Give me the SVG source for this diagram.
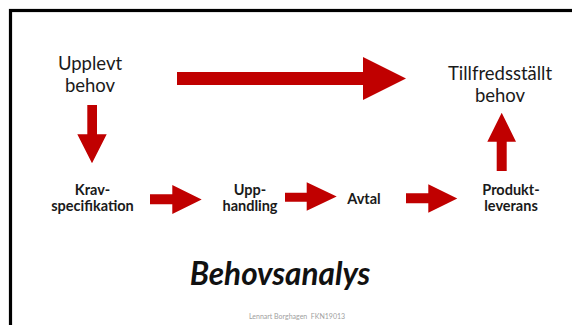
<svg xmlns="http://www.w3.org/2000/svg" width="572" height="325" viewBox="0 0 572 325">
<style>
.arrow{fill:#C00000;stroke:none}
.t{font-family:Lato,"Liberation Sans",sans-serif;fill:#1a1a1a;text-anchor:middle}
.big{font-size:18.5px}
.small{font-size:14.5px;font-weight:bold}
.title{font-size:31.5px;font-weight:bold;font-style:italic;fill:#111}
.foot{font-family:Lato,"Liberation Sans",sans-serif;font-size:7px;fill:#a0a0a0;text-anchor:middle}
</style>
<rect x="0" y="0" width="572" height="325" fill="#ffffff"/>
<rect x="10.5" y="10.5" width="620" height="400" fill="none" stroke="#000" stroke-width="3.2"/>
<g id="upplevt"><text class="t big" x="90" y="70">Upplevt</text><text class="t big" x="90" y="91.5">behov</text></g>
<g id="tillfredsstallt"><text class="t big" x="500" y="80">Tillfredsställt</text><text class="t big" x="500" y="102">behov</text></g>
<g id="krav"><text class="t small" x="92.5" y="195">Krav-</text><text class="t small" x="92.5" y="210.5">specifikation</text></g>
<g id="upphandling"><text class="t small" x="250" y="195">Upp-</text><text class="t small" x="250" y="210.5">handling</text></g>
<g id="avtal"><text class="t small" x="364" y="203.5">Avtal</text></g>
<g id="produktleverans"><text class="t small" x="511" y="195">Produkt-</text><text class="t small" x="511" y="210.5">leverans</text></g>
<g id="connectors">
<polygon class="arrow" points="177,72 363,72 363,57 406,78.5 363,100 363,85 177,85"/>
<polygon class="arrow" points="87.3,105 97,105 97,134.3 106.7,134.3 92,163.3 77.3,134.3 87.3,134.3"/>
<polygon class="arrow" points="496.7,171 506.7,171 506.7,141.7 516,141.7 501.7,112.7 487.3,141.7 496.7,141.7"/>
<polygon class="arrow" points="150,194.3 172.3,194.3 172.3,185 201.7,199.5 172.3,214 172.3,204.3 150,204.3"/>
<polygon class="arrow" points="285,192.7 306.7,192.7 306.7,182.3 336.7,196.5 306.7,210.7 306.7,201.7 285,201.7"/>
<polygon class="arrow" points="406,193.3 428.3,193.3 428.3,184.3 457.3,198.5 428.3,212.7 428.3,203.3 406,203.3"/>
</g>
<text class="t title" x="280" y="285">Behovsanalys</text>
<text class="foot" x="297" y="319">Lennart Borghagen&#160; FKN19013</text>
</svg>
